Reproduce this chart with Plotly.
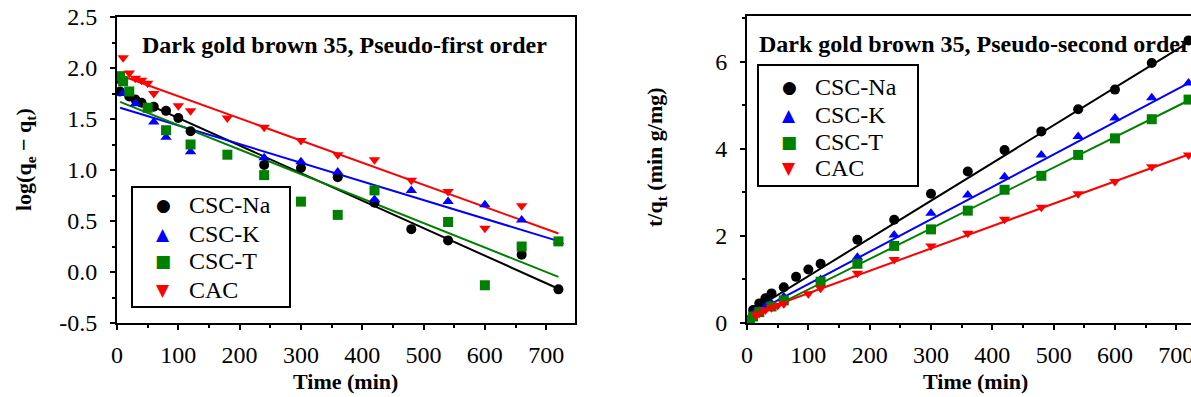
import plotly.graph_objects as go

# ---------------- data ----------------
series_names = ["CSC-Na", "CSC-K", "CSC-T", "CAC"]
colors = ["#000000", "#0000ff", "#008000", "#ff0000"]
symbols = ["circle", "triangle-up", "square", "triangle-down"]
legend_glyphs = ["●", "▲", "■", "▼"]

# Pseudo-first order: log(qe - qt) vs time
pfo_na_t = [5, 20, 30, 40, 60, 80, 100, 120, 240, 300, 360, 420, 480, 540, 660, 720]
pfo_na_v = [1.77, 1.72, 1.69, 1.66, 1.62, 1.58, 1.51, 1.38, 1.05, 1.02, 0.93, 0.68, 0.42, 0.31, 0.17, -0.17]
pfo_k_t = [5, 10, 30, 60, 80, 120, 240, 300, 360, 420, 480, 540, 600, 660, 720]
pfo_k_v = [1.87, 1.75, 1.65, 1.47, 1.32, 1.18, 1.12, 1.08, 0.98, 0.71, 0.80, 0.69, 0.66, 0.51, 0.30]
pfo_t_t = [5, 10, 20, 50, 80, 120, 180, 240, 300, 360, 420, 540, 600, 660, 720]
pfo_t_v = [1.92, 1.87, 1.77, 1.61, 1.39, 1.25, 1.15, 0.95, 0.69, 0.56, 0.80, 0.49, -0.13, 0.25, 0.30]
pfo_cac_t = [10, 20, 30, 40, 50, 60, 100, 120, 180, 240, 300, 360, 420, 480, 540, 600, 660]
pfo_cac_v = [2.10, 1.95, 1.90, 1.88, 1.85, 1.75, 1.63, 1.58, 1.51, 1.42, 1.29, 1.15, 1.10, 0.90, 0.79, 0.43, 0.65]
# linear fits (intercept, slope)
pfo_intercepts = [1.78, 1.62, 1.68, 1.94]
pfo_slopes = [-0.00270, -0.00183, -0.00240, -0.00217]
pfo_fit_span = [5, 720]

# Pseudo-second order: t/qt vs time
pso_na_t = [10, 20, 30, 40, 60, 80, 100, 120, 180, 240, 300, 360, 420, 480, 540, 600, 660, 720]
pso_na_v = [0.30, 0.45, 0.57, 0.68, 0.82, 1.06, 1.23, 1.36, 1.91, 2.37, 2.97, 3.48, 3.97, 4.40, 4.91, 5.36, 5.97, 6.49]
pso_k_t = [10, 20, 30, 40, 60, 120, 180, 240, 300, 360, 420, 480, 540, 600, 660, 720]
pso_k_v = [0.22, 0.30, 0.38, 0.45, 0.60, 1.00, 1.51, 2.02, 2.52, 2.94, 3.36, 3.86, 4.28, 4.71, 5.17, 5.51]
pso_t_t = [5, 10, 20, 40, 60, 120, 180, 240, 300, 360, 420, 480, 540, 600, 660, 720]
pso_t_v = [0.07, 0.15, 0.25, 0.38, 0.52, 0.95, 1.36, 1.77, 2.15, 2.58, 3.06, 3.38, 3.86, 4.24, 4.68, 5.13]
pso_cac_t = [15, 20, 30, 40, 50, 60, 100, 120, 180, 240, 300, 360, 420, 480, 540, 600, 660, 720]
pso_cac_v = [0.18, 0.22, 0.30, 0.35, 0.40, 0.44, 0.67, 0.80, 1.14, 1.46, 1.77, 2.06, 2.38, 2.66, 2.97, 3.25, 3.59, 3.86]
pso_intercepts = [0.21, 0.15, 0.07, 0.17]
pso_slopes = [0.00866, 0.00744, 0.00700, 0.00514]
pso_fit_span = [5, 720]

left_x_ticks = [0, 100, 200, 300, 400, 500, 600, 700]
left_y_ticks = [-0.5, 0.0, 0.5, 1.0, 1.5, 2.0, 2.5]
left_y_ticktext = ["-0.5", "0.0", "0.5", "1.0", "1.5", "2.0", "2.5"]
right_y_ticks = [0, 2, 4, 6]

title_left = "Dark gold brown 35, Pseudo-first order"
title_right = "Dark gold brown 35, Pseudo-second order"

# ---------------- figure ----------------
W, H = 1191, 397
SERIF = "Liberation Serif"

fig = go.Figure()

pfo_t = [pfo_na_t, pfo_k_t, pfo_t_t, pfo_cac_t]
pfo_v = [pfo_na_v, pfo_k_v, pfo_t_v, pfo_cac_v]
pso_t = [pso_na_t, pso_k_t, pso_t_t, pso_cac_t]
pso_v = [pso_na_v, pso_k_v, pso_t_v, pso_cac_v]

for i in range(4):
    xs = pfo_fit_span
    fig.add_trace(go.Scatter(x=xs, y=[pfo_intercepts[i] + pfo_slopes[i] * x for x in xs],
                             mode="lines", line=dict(color=colors[i], width=2),
                             showlegend=False, xaxis="x", yaxis="y", hoverinfo="skip"))
    xs2 = pso_fit_span
    fig.add_trace(go.Scatter(x=xs2, y=[pso_intercepts[i] + pso_slopes[i] * x for x in xs2],
                             mode="lines", line=dict(color=colors[i], width=2),
                             showlegend=False, xaxis="x2", yaxis="y2", hoverinfo="skip"))

for i in range(4):
    fig.add_trace(go.Scatter(x=pfo_t[i], y=pfo_v[i], mode="markers", name=series_names[i],
                             marker=dict(color=colors[i], symbol=symbols[i], size=10),
                             xaxis="x", yaxis="y", showlegend=False))
for i in range(4):
    fig.add_trace(go.Scatter(x=pso_t[i], y=pso_v[i], mode="markers", name=series_names[i],
                             marker=dict(color=colors[i], symbol=symbols[i], size=10),
                             xaxis="x2", yaxis="y2", showlegend=False))

tickfont = dict(family=SERIF, size=24, color="black")
axis_common = dict(showline=True, linecolor="black", linewidth=2, ticks="outside",
                   ticklen=5, tickwidth=1.5, tickcolor="black", tickfont=tickfont,
                   showgrid=False, zeroline=False, ticklabeloverflow="allow")

L0, L1 = 117 / W, 575 / W
R0 = 747 / W
T0, T1 = 1 - 323 / H, 1 - 17 / H

fig.update_layout(
    width=W, height=H,
    margin=dict(l=0, r=0, t=0, b=0, autoexpand=False),
    paper_bgcolor="white", plot_bgcolor="white",
    font=dict(family=SERIF, color="black"),
    showlegend=False,
    xaxis=dict(domain=[L0, L1], range=[0, 747], tickvals=left_x_ticks, mirror=True,
               ticklabelstandoff=4,
               minor=dict(dtick=50, ticks="outside", ticklen=3, tickcolor="black"),
               anchor="y", **axis_common),
    yaxis=dict(domain=[T0, T1], range=[-0.5, 2.5], tickvals=left_y_ticks,
               ticktext=left_y_ticktext, mirror=True, ticklabelstandoff=8,
               minor=dict(dtick=0.25, ticks="outside", ticklen=3, tickcolor="black"),
               anchor="x", **axis_common),
    xaxis2=dict(domain=[R0, 1.0], range=[0, 724], tickvals=left_x_ticks, mirror=True,
                ticklabelstandoff=4,
                minor=dict(dtick=50, ticks="outside", ticklen=3, tickcolor="black"),
                anchor="y2", **axis_common),
    yaxis2=dict(domain=[T0, 1 - 16 / H], range=[0, 7.05], tickvals=right_y_ticks, mirror=False,
                ticklabelstandoff=8,
                minor=dict(dtick=1, ticks="outside", ticklen=3, tickcolor="black"),
                anchor="x2", **axis_common),
)

# manual legends (box + marker glyph + label)
legend_boxes = [(132, 187, 290, 307), (758, 65, 918, 186)]
legend_rows = [[205, 234, 261, 290], [87, 115, 142, 168]]
for (x0, y0, x1, y1), rows in zip(legend_boxes, legend_rows):
    fig.add_shape(type="rect", xref="paper", yref="paper",
                  x0=x0 / W, x1=x1 / W, y0=1 - y1 / H, y1=1 - y0 / H,
                  line=dict(color="black", width=2), fillcolor="white", layer="above")
    for k in range(4):
        fig.add_annotation(text=legend_glyphs[k], x=(x0 + 31) / W, y=1 - rows[k] / H,
                           xref="paper", yref="paper", showarrow=False,
                           xanchor="center", yanchor="middle",
                           font=dict(family="DejaVu Sans", size=17, color=colors[k]))
        fig.add_annotation(text=series_names[k], x=(x0 + 55) / W, y=1 - rows[k] / H,
                           xref="paper", yref="paper", showarrow=False,
                           xanchor="left", yanchor="middle",
                           font=dict(family=SERIF, size=24, color="black"))

bold22 = dict(family=SERIF, size=22, color="black")
fig.add_annotation(text="<b>" + title_left + "</b>", x=344 / W, y=1 - 45 / H, xref="paper", yref="paper",
                   showarrow=False, xanchor="center", yanchor="middle",
                   font=dict(family=SERIF, size=24, color="black"))
fig.add_annotation(text="<b>" + title_right + "</b>", x=757 / W, y=1 - 44 / H, xref="paper", yref="paper",
                   showarrow=False, xanchor="left", yanchor="middle",
                   font=dict(family=SERIF, size=24, color="black"))
fig.add_annotation(text="<b>Time (min)</b>", x=345 / W, y=1 - 396 / H, xref="paper", yref="paper",
                   showarrow=False, xanchor="center", yanchor="bottom", font=bold22)
fig.add_annotation(text="<b>Time (min)</b>", x=975 / W, y=1 - 396 / H, xref="paper", yref="paper",
                   showarrow=False, xanchor="center", yanchor="bottom", font=bold22)
fig.add_annotation(text="<b>log(q<sub>e</sub> − q<sub>t</sub>)</b>", x=25 / W, y=1 - 160 / H,
                   xref="paper", yref="paper", showarrow=False, textangle=-90,
                   xanchor="center", yanchor="middle", font=bold22)
fig.add_annotation(text="<b>t/q<sub>t</sub> (min g/mg)</b>", x=656 / W, y=1 - 157 / H,
                   xref="paper", yref="paper", showarrow=False, textangle=-90,
                   xanchor="center", yanchor="middle", font=bold22)

fig.write_html("out.html")
